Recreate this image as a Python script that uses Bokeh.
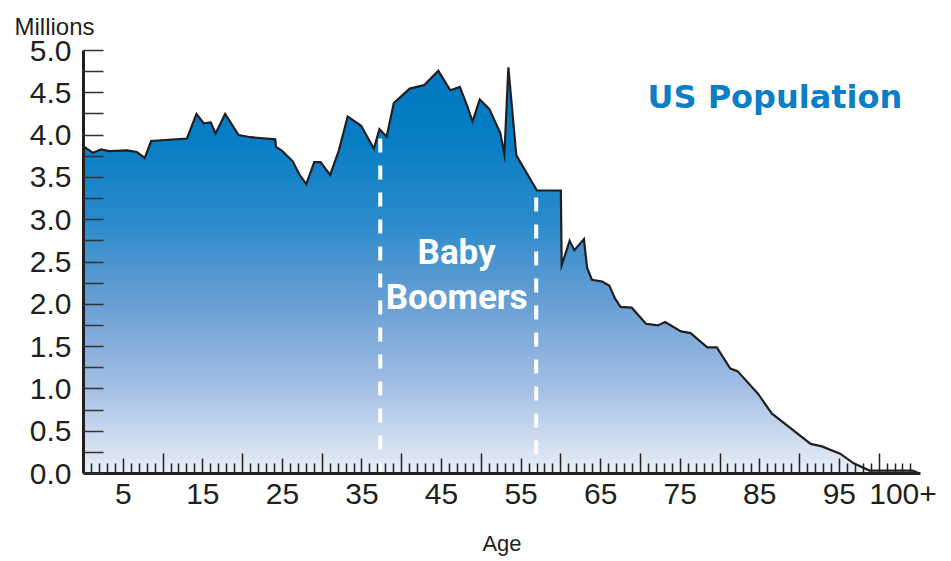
import numpy as np
from bokeh.plotting import figure
from bokeh.models import Range1d, FixedTicker, LinearAxis, Label, NumeralTickFormatter
from bokeh.embed import file_html
from bokeh.resources import INLINE

# ---- data ----
ages = [0, 1.2, 2.2, 3.2, 5.5, 6.7, 7.7, 8.5, 13.0, 14.2, 15.1, 16.0, 16.6, 17.8,
        19.5, 21.0, 24.1, 24.2, 25.0, 26.3, 27.1, 28.0, 29.0, 29.8, 31.0, 32.1,
        33.2, 34.9, 35.9, 36.5, 37.2, 38.1, 39.0, 41.0, 42.8, 44.6, 46.1, 47.3,
        48.2, 48.9, 49.8, 51.0, 52.4, 52.9, 53.4, 54.4, 57.0, 60.0, 60.1, 61.1,
        61.7, 62.9, 63.3, 63.9, 65.2, 66.1, 66.8, 67.5, 68.9, 70.7, 72.2, 73.1,
        75.1, 76.3, 78.4, 79.6, 81.3, 82.2, 84.8, 86.5, 91.4, 92.8, 95.1, 96.8,
        98.8, 104.2, 105.1]
millions = [3.865, 3.79, 3.83, 3.81, 3.82, 3.80, 3.73, 3.93, 3.96, 4.25, 4.14, 4.15,
            4.02, 4.25, 4.00, 3.975, 3.95, 3.86, 3.81, 3.69, 3.54, 3.42, 3.68, 3.68,
            3.53, 3.82, 4.22, 4.11, 3.94, 3.84, 4.07, 3.98, 4.38, 4.55, 4.59, 4.76,
            4.53, 4.57, 4.35, 4.16, 4.42, 4.31, 4.02, 3.77, 4.80, 3.76, 3.345, 3.345,
            2.46, 2.75, 2.64, 2.77, 2.43, 2.29, 2.27, 2.22, 2.07, 1.97, 1.96, 1.77,
            1.75, 1.79, 1.68, 1.66, 1.49, 1.49, 1.24, 1.21, 0.94, 0.71, 0.35, 0.32,
            0.235, 0.12, 0.035, 0.035, 0.0]

x_label_ticks = [5, 15, 25, 35, 45, 55, 65, 75, 85, 95]
x_decade_ticks = [10, 20, 30, 40, 50, 60, 70, 80, 90, 100]
x_minor_ticks = [a for a in range(1, 105) if a % 5 != 0]
x_last_label = "100+"
y_ticks = [0.0, 0.5, 1.0, 1.5, 2.0, 2.5, 3.0, 3.5, 4.0, 4.5, 5.0]
y_minor_ticks = [0.25, 0.75, 1.25, 1.75, 2.25, 2.75, 3.25, 3.75, 4.25, 4.75]
boomer_bounds = [37.3, 56.9]

# ---- layout constants ----
X_END = 105.2
Y_END = 5.0
LAST_LABEL_POS = 103
INK = "#231F20"
BLUE = "#0A7FC5"
FONT = "Liberation Sans"

p = figure(width=945, height=559, output_backend="svg", toolbar_location=None,
           x_range=Range1d(0, X_END), y_range=Range1d(0, Y_END),
           min_border_left=83, min_border_right=25, min_border_top=50,
           min_border_bottom=86)
p.outline_line_color = None
p.grid.visible = False
p.background_fill_color = "white"

# "Millions" unit caption as the plot title, top-left
p.title.text = "Millions"
p.title.align = "left"
p.title.vertical_align = "top"
p.title.offset = -69
p.title.standoff = 18
p.title.text_font = FONT
p.title.text_font_size = "24px"
p.title.text_font_style = "normal"
p.title.text_color = INK

# gradient fill: vertical gradient image, then white mask above the curve
img_top = max(millions) + 0.05
img_right = ages[-1]
stop_v = [0.0, 0.5, 1.0, 2.0, 3.0, 4.0, 5.0]
stop_rgb = [(234, 240, 249), (200, 216, 238), (165, 192, 229), (106, 160, 213),
            (42, 139, 204), (6, 125, 196), (0, 120, 192)]
n = 400
yy = np.linspace(0, img_top, n)
img = np.empty((n, 1), dtype=np.uint32)
view = img.view(dtype=np.uint8).reshape((n, 1, 4))
for k in range(3):
    view[:, 0, k] = np.interp(yy, stop_v, [c[k] for c in stop_rgb]).astype(np.uint8)
view[:, 0, 3] = 255
p.image_rgba(image=[img], x=0, y=0, dw=img_right, dh=img_top)

mask_x = [0] + ages + [X_END + 2, X_END + 2, 0]
mask_y = [Y_END + 0.5] + millions + [-0.01, Y_END + 0.5, Y_END + 0.5]
p.patch(mask_x, mask_y, fill_color="white", line_color=None)

# baby boomer dashed bounds
dash_tops = [float(np.interp(b, ages, millions)) - 0.1 for b in boomer_bounds]
p.segment(x0=boomer_bounds, y0=dash_tops, x1=boomer_bounds, y1=[0, 0],
          line_color="white", line_width=4, line_dash="14 13")

p.line(ages, millions, line_color=INK, line_width=2.2, line_join="miter")

# ---- axes ----
# labelled x axis (ticks drawn by the two inner axes below)
xb = p.xaxis[0]
xb.ticker = FixedTicker(ticks=x_label_ticks + [LAST_LABEL_POS], minor_ticks=[])
xb.major_label_overrides = {LAST_LABEL_POS: x_last_label}
xb.major_tick_in = 0
xb.major_tick_out = 0
xb.minor_tick_in = 0
xb.minor_tick_out = 0
xb.major_tick_line_color = None
xb.minor_tick_line_color = None
xb.axis_line_color = INK
xb.axis_line_width = 3
xb.major_label_text_font = FONT
xb.major_label_text_font_size = "30px"
xb.major_label_text_color = INK
xb.major_label_standoff = 10
xb.axis_label = "Age"
xb.axis_label_text_font = FONT
xb.axis_label_text_font_size = "22px"
xb.axis_label_text_font_style = "normal"
xb.axis_label_text_color = INK
xb.axis_label_standoff = 24

# tall decade ticks + yearly minor ticks
xa = LinearAxis(ticker=FixedTicker(ticks=x_decade_ticks, minor_ticks=x_minor_ticks),
                fixed_location=0, major_tick_in=20, major_tick_out=0,
                minor_tick_in=10, minor_tick_out=0,
                major_tick_line_color=INK, major_tick_line_width=1.5,
                minor_tick_line_color=INK, minor_tick_line_width=1.5,
                axis_line_color=None, major_label_text_font_size="0px",
                major_label_overrides={t: "" for t in x_decade_ticks})
p.add_layout(xa, "below")

# medium ticks at the labelled ages
xd = LinearAxis(ticker=FixedTicker(ticks=x_label_ticks, minor_ticks=[]),
                fixed_location=0, major_tick_in=15, major_tick_out=0,
                major_tick_line_color=INK, major_tick_line_width=1.5,
                minor_tick_line_color=None,
                axis_line_color=None, major_label_text_font_size="0px",
                major_label_overrides={t: "" for t in x_label_ticks})
p.add_layout(xd, "below")

ya = p.yaxis[0]
ya.ticker = FixedTicker(ticks=y_ticks, minor_ticks=y_minor_ticks)
ya.formatter = NumeralTickFormatter(format="0.0")
ya.major_tick_in = 20
ya.major_tick_out = 0
ya.minor_tick_in = 20
ya.minor_tick_out = 0
ya.major_tick_line_color = "#333333"
ya.minor_tick_line_color = "#333333"
ya.major_tick_line_width = 1.5
ya.minor_tick_line_width = 1.5
ya.axis_line_color = INK
ya.axis_line_width = 3
ya.major_label_text_font = FONT
ya.major_label_text_font_size = "30px"
ya.major_label_text_color = INK
ya.major_label_standoff = 12

# ---- texts ----
p.add_layout(Label(x=86.9, y=4.456, text="US Population", text_font="DejaVu Sans",
                   text_font_style="bold", text_font_size="32px", text_color=BLUE,
                   text_align="center", text_baseline="alphabetic"))
p.add_layout(Label(x=46.9, y=2.615, text="Baby", text_font="Roboto",
                   text_font_style="bold", text_font_size="35px", text_color="white",
                   text_align="center", text_baseline="alphabetic"))
p.add_layout(Label(x=46.9, y=2.08, text="Boomers", text_font="Roboto",
                   text_font_style="bold", text_font_size="35px", text_color="white",
                   text_align="center", text_baseline="alphabetic"))

open("out.html", "w").write(file_html(p, INLINE))
